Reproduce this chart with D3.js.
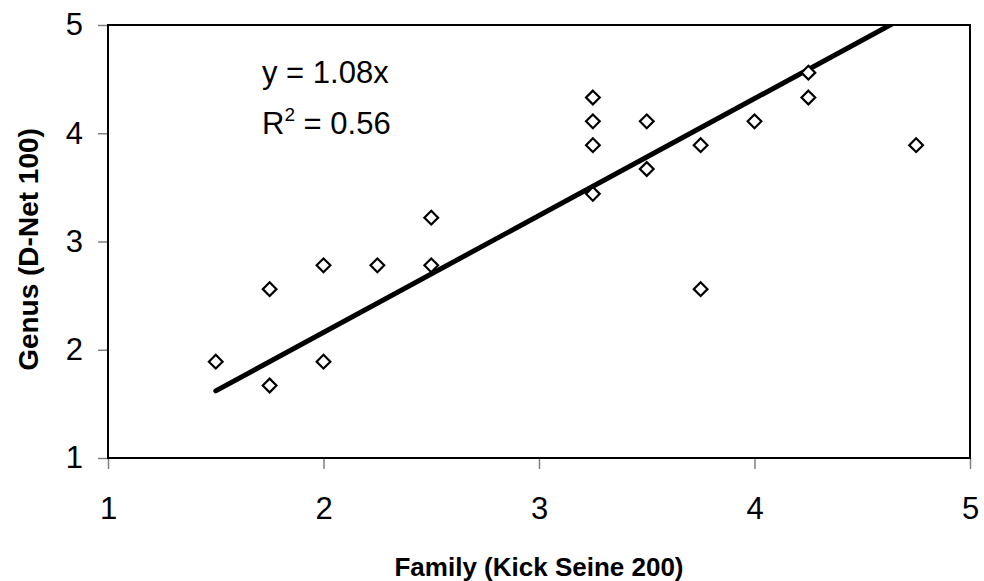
<!DOCTYPE html>
<html>
<head>
<meta charset="utf-8">
<script src="https://cdn.jsdelivr.net/npm/d3@7"></script>
<style>
  body { margin: 0; background: #fff; }
  svg { display: block; font-family: Arial, "Liberation Sans", sans-serif; }
</style>
</head>
<body>
<div id="chart"></div>
<script>
// family score (kick seine 200) vs genus score (d-net 100)
const familyScores = [1.5, 1.75, 1.75, 2, 2, 2.25, 2.5, 2.5, 3.25, 3.25, 3.25, 3.25, 3.5, 3.5, 3.75, 3.75, 4, 4.25, 4.25, 4.75];
const genusScores  = [1.89, 2.56, 1.67, 2.78, 1.89, 2.78, 3.22, 2.78, 4.33, 4.11, 3.89, 3.44, 4.11, 3.67, 3.89, 2.56, 4.11, 4.56, 4.33, 3.89];
const xTicks = [1, 2, 3, 4, 5];
const yTicks = [1, 2, 3, 4, 5];
const slope = 1.08;
const rSquared = 0.56;

const W = 984, H = 581;
const margin = { top: 25, right: 14, bottom: 123, left: 108 };
const width = W - margin.left - margin.right;
const height = H - margin.top - margin.bottom;

const svg = d3.select("#chart").append("svg")
    .attr("width", W)
    .attr("height", H);

const g = svg.append("g")
    .attr("transform", `translate(${margin.left},${margin.top})`);

const x = d3.scaleLinear().domain([1, 5]).range([0, width]);
const y = d3.scaleLinear().domain([1, 5]).range([height, 0]);

// axes
const xAxis = g.append("g")
    .attr("transform", `translate(0,${height})`)
    .call(d3.axisBottom(x).tickValues(xTicks).tickSize(11).tickPadding(28).tickFormat(d3.format("d")));
const yAxis = g.append("g")
    .call(d3.axisLeft(y).tickValues(yTicks).tickSize(10).tickPadding(15).tickFormat(d3.format("d")));

[xAxis, yAxis].forEach(a => {
    a.select(".domain").remove();
    a.selectAll(".tick line").attr("stroke", "#808080").attr("stroke-width", 1.5);
    a.selectAll(".tick text")
        .style("font-size", "31px")
        .attr("fill", "#000");
});

// plot border
g.append("rect")
    .attr("width", width)
    .attr("height", height)
    .attr("fill", "none")
    .attr("stroke", "#000")
    .attr("stroke-width", 2);

g.append("clipPath").attr("id", "plotClip")
    .append("rect").attr("width", width).attr("height", height);

// trendline through origin, over the data range
const xr = d3.extent(familyScores);
g.append("line")
    .attr("clip-path", "url(#plotClip)")
    .attr("x1", x(xr[0])).attr("y1", y(slope * xr[0]))
    .attr("x2", x(xr[1])).attr("y2", y(slope * xr[1]))
    .attr("stroke", "#000")
    .attr("stroke-width", 5)
    .attr("stroke-linecap", "round");

// diamond markers
const diamond = d3.symbol().type(d3.symbolDiamond2).size(120);
g.selectAll(".pt")
    .data(familyScores.map((f, i) => ({ f, gs: genusScores[i] })))
    .join("path")
    .attr("class", "pt")
    .attr("d", diamond)
    .attr("transform", d => `translate(${x(d.f)},${y(d.gs)})`)
    .attr("fill", "#fff")
    .attr("stroke", "#000")
    .attr("stroke-width", 2.2);

// equation label
const eq = svg.append("g").style("font-size", "31px");
eq.append("text").attr("x", 262).attr("y", 83).text(`y = ${slope.toFixed(2)}x`);
const r2 = eq.append("text").attr("x", 262).attr("y", 134);
r2.append("tspan").text("R");
r2.append("tspan").attr("dy", -13).style("font-size", "19px").text("2");
r2.append("tspan").attr("dy", 13).text(` = ${rSquared.toFixed(2)}`);

// axis titles
svg.append("text")
    .attr("x", margin.left + width / 2)
    .attr("y", 576)
    .attr("text-anchor", "middle")
    .style("font-size", "26px")
    .style("font-weight", "bold")
    .text("Family (Kick Seine 200)");

svg.append("text")
    .attr("transform", `translate(38,${margin.top + height / 2 + 8}) rotate(-90)`)
    .attr("text-anchor", "middle")
    .style("font-size", "28px")
    .style("font-weight", "bold")
    .text("Genus (D-Net 100)");
</script>
</body>
</html>
